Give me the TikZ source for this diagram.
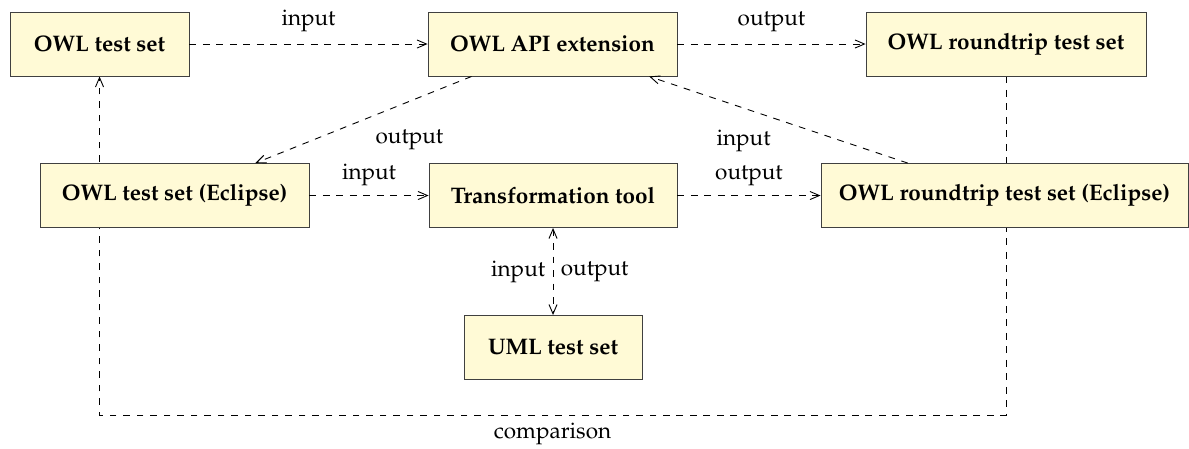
\documentclass[tikz,border=0pt]{standalone}
\usepackage[T1]{fontenc}
\usepackage{mathpazo}
\usepackage{xcolor}
\usepackage{tikz}
\usetikzlibrary{arrows.meta,positioning,backgrounds}
\definecolor{boxfill}{RGB}{255,250,214}

\begin{document}
\begin{tikzpicture}[>={Straight Barb[length=4.2pt,width=3.6pt]},
  box/.style={draw=black!75,fill=boxfill,minimum height=1cm,inner xsep=6pt,font=\bfseries},
  lbl/.style={inner sep=3.3pt},
  a/.style={->,dashed},
  b/.style={<->,dashed}]
  \useasboundingbox (0,0) rectangle (18.578,-7);
  \node[box,minimum width=2.797cm] (ts) at (1.555,-0.6875) {OWL test set};
  \node[box,minimum width=3.89cm] (api) at (8.633,-0.6875) {OWL API extension};
  \node[box,minimum width=4.375cm] (rt) at (15.719,-0.6875) {OWL roundtrip test set};
  \node[box,minimum width=4.203cm] (tse) at (2.727,-3.055) {OWL test set (Eclipse)};
  \node[box,minimum width=3.875cm] (tr) at (8.641,-3.055) {Transformation tool};
  \node[box,minimum width=5.734cm] (rte) at (15.695,-3.055) {OWL roundtrip test set (Eclipse)};
  \node[box,minimum width=2.78cm,below=1.36cm of tr] (uml) {UML test set};
  \coordinate (cmp) at (8.633,-6.484);
  \draw[a] (ts) -- node[lbl,above=1.7pt] (l1) {input} (api);
  \draw[a] (api) -- node[lbl,above=1.7pt] (l2) {output} (rt);
  \draw[a] (api) -- node[lbl,pos=.48,below right,yshift=-1.6pt] (l3) {output} (tse);
  \draw[a] (rte) -- node[lbl,pos=.5,below left,yshift=-1pt] (l4) {input} (api);
  \draw[a] (tse) -- node[lbl,above=0.7pt] (l5) {input} (tr);
  \draw[a] (tr) -- node[lbl,above=0.7pt] (l6) {output} (rte);
  \draw[b] (tr) -- node[lbl,left] (l7) {input} node[lbl,right] (l8) {output} (uml);
  \begin{scope}[on background layer]
    \draw[a] (rt.south) |- (cmp) -| (ts.south);
  \end{scope}
  \node[below=3.5pt,inner sep=0pt] (l9) at (cmp) {comparison};
\end{tikzpicture}
\end{document}
